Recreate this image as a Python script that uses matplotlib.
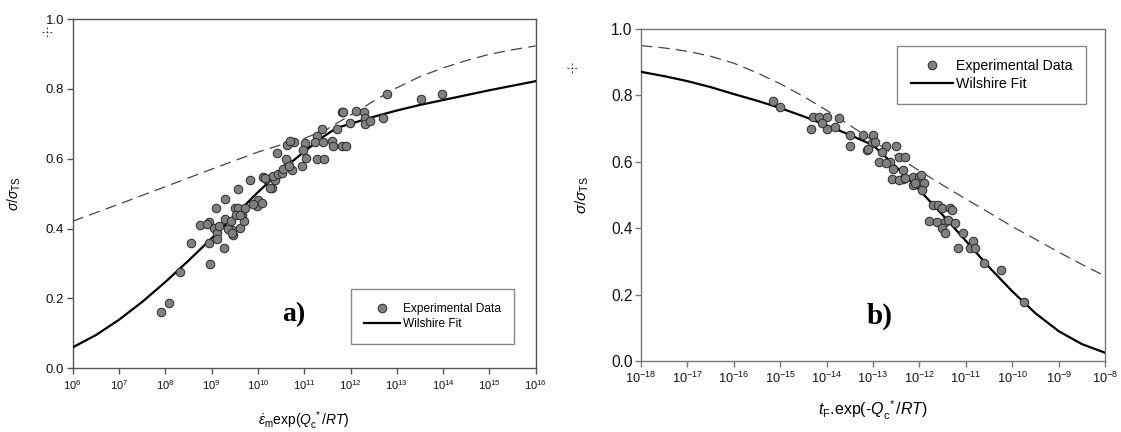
import numpy as np
import matplotlib
matplotlib.use("Agg")
import matplotlib.pyplot as plt
from matplotlib.lines import Line2D
from matplotlib.ticker import FixedLocator, NullLocator, LogFormatterSciNotation

plt.rcParams['font.family'] = ['Liberation Sans', 'DejaVu Sans']
plt.rcParams['mathtext.fontset'] = 'custom'
plt.rcParams['mathtext.rm'] = 'Liberation Sans'
plt.rcParams['mathtext.it'] = 'Liberation Sans:italic'
plt.rcParams['mathtext.bf'] = 'Liberation Sans:bold'
plt.rcParams['axes.unicode_minus'] = False

# ---------------- Panel a) data (x given as log10 exponent) ----------------
a_pts_logx = [7.91, 8.07, 8.32, 8.55, 8.74, 8.94, 8.97, 8.94, 9.09, 9.05, 9.12, 9.11,
              9.27, 9.28, 9.29, 9.42, 9.43, 9.47, 9.51, 9.58, 9.52, 9.58, 9.61, 9.65,
              9.69, 9.72, 9.84, 9.99, 10.01, 10.08, 10.12, 10.17, 10.30, 10.37, 10.41,
              10.33, 10.44, 10.51, 10.55, 10.64, 10.73, 10.62, 9.36, 9.44, 9.16, 8.91,
              9.90, 9.62, 10.15, 10.26, 10.61, 10.68,
              10.78, 10.69, 11.02, 11.04, 10.95, 10.98, 11.27, 11.23, 11.38, 11.41,
              11.27, 11.43, 11.59, 11.63, 11.81, 11.90, 11.70, 11.81, 11.84, 11.99,
              12.12, 12.29, 12.31, 12.31, 12.42, 12.71, 12.79, 13.53, 13.98]
a_pts_val = [0.162, 0.187, 0.276, 0.360, 0.409, 0.419, 0.299, 0.360, 0.459, 0.402, 0.387, 0.370,
             0.344, 0.485, 0.426, 0.423, 0.397, 0.383, 0.459, 0.459, 0.440, 0.512, 0.402, 0.440,
             0.421, 0.459, 0.540, 0.464, 0.483, 0.473, 0.548, 0.543, 0.517, 0.540, 0.615,
             0.550, 0.555, 0.560, 0.570, 0.588, 0.567, 0.640, 0.400, 0.387, 0.406, 0.414,
             0.470, 0.440, 0.546, 0.516, 0.600, 0.580,
             0.647, 0.650, 0.646, 0.603, 0.580, 0.625, 0.665, 0.647, 0.684, 0.647,
             0.600, 0.600, 0.650, 0.636, 0.636, 0.636, 0.684, 0.735, 0.735, 0.703,
             0.736, 0.734, 0.718, 0.700, 0.707, 0.718, 0.786, 0.770, 0.786]

a_fit_logx = [6, 6.5, 7, 7.5, 8, 8.5, 9, 9.5, 10, 10.5, 11, 11.4, 11.7, 12, 12.5, 13,
              13.5, 14, 14.5, 15, 15.5, 16]
a_fit_val = [0.060, 0.095, 0.139, 0.190, 0.247, 0.308, 0.372, 0.438, 0.504, 0.566, 0.620,
             0.662, 0.688, 0.700, 0.720, 0.738, 0.754, 0.768, 0.782, 0.796, 0.809, 0.822]

a_dash_logx = [6, 7, 8, 9, 10, 10.5, 11, 11.5, 12, 12.5, 13, 13.5, 14, 14.5, 15, 15.5, 16]
a_dash_val = [0.421, 0.470, 0.520, 0.570, 0.619, 0.640, 0.658, 0.685, 0.725, 0.765, 0.803,
              0.835, 0.860, 0.881, 0.899, 0.912, 0.923]

a_xtick_exp = [6, 7, 8, 9, 10, 11, 12, 13, 14, 15, 16]

# ---------------- Panel b) data ----------------
b_pts_logx = [-15.16, -15.00, -14.29, -14.34, -14.16, -14.00, -14.00, -14.10, -13.82, -13.73,
              -13.50, -13.50, -13.21, -13.14, -13.00, -13.03, -12.86, -12.71, -12.50, -12.64,
              -12.43, -12.32, -12.57, -12.36, -12.59, -12.36, -12.14, -12.00, -12.14, -11.96,
              -13.10, -12.95, -12.80, -12.72, -12.45, -12.31, -12.09, -11.97, -11.91, -11.95,
              -11.71, -11.59, -11.52, -11.34, -11.30, -11.80, -11.63, -11.45, -11.38, -11.52,
              -11.45, -11.23, -11.05, -11.16, -10.92, -10.85, -10.81, -10.60, -10.24, -9.75]
b_pts_val = [0.784, 0.766, 0.734, 0.699, 0.734, 0.734, 0.698, 0.716, 0.705, 0.733,
             0.681, 0.648, 0.681, 0.636, 0.681, 0.656, 0.600, 0.648, 0.648, 0.600,
             0.614, 0.614, 0.577, 0.576, 0.547, 0.547, 0.555, 0.555, 0.530, 0.535,
             0.640, 0.660, 0.630, 0.595, 0.545, 0.550, 0.535, 0.560, 0.537, 0.515,
             0.470, 0.470, 0.460, 0.460, 0.455, 0.421, 0.420, 0.420, 0.425, 0.400,
             0.385, 0.417, 0.387, 0.339, 0.340, 0.362, 0.339, 0.296, 0.274, 0.179]

b_fit_logx = [-18, -17.5, -17, -16.5, -16, -15.5, -15, -14.5, -14, -13.5, -13, -12.5, -12,
              -11.5, -11, -10.5, -10, -9.5, -9, -8.5, -8]
b_fit_val = [0.871, 0.858, 0.843, 0.825, 0.804, 0.784, 0.762, 0.737, 0.710, 0.681, 0.650,
             0.585, 0.515, 0.440, 0.362, 0.283, 0.210, 0.144, 0.090, 0.051, 0.025]

b_dash_logx = [-18, -17.5, -17, -16.5, -16, -15.5, -15, -14.5, -14, -13.5, -13, -12.5, -12,
               -11.5, -11, -10.5, -10, -9.5, -9, -8.5, -8]
b_dash_val = [0.950, 0.943, 0.933, 0.918, 0.897, 0.868, 0.835, 0.797, 0.755, 0.710, 0.664,
              0.617, 0.573, 0.530, 0.488, 0.447, 0.405, 0.367, 0.328, 0.291, 0.256]

b_xtick_exp = [-18, -17, -16, -15, -14, -13, -12, -11, -10, -9, -8]

yticks = [0.0, 0.2, 0.4, 0.6, 0.8, 1.0]
legend_labels = ['Experimental Data', 'Wilshire Fit']

W, H = 1121, 432
fig = plt.figure(figsize=(W / 100, H / 100), dpi=100)

axA = fig.add_axes([72.7 / W, 1 - 368.3 / H, 463.0 / W, 349.3 / H])
axB = fig.add_axes([641.0 / W, 1 - 361.0 / H, 464.0 / W, 332.0 / H])

face = '#808080'
edge = '#2a2a2a'


def draw(ax, pts_x, pts_y, fit_x, fit_y, dash_x, dash_y, xt_exp, spine_col,
         xt_size, yt_size, leg_size, leg_center, leg_pad, panel_label, pl_pos, pl_size):
    ax.plot(10.0 ** np.array(dash_x), dash_y, color='#444444', lw=0.9,
            dashes=(9, 5), zorder=2)
    ax.plot(10.0 ** np.array(fit_x), fit_y, color='black', lw=1.6, zorder=3)
    ax.scatter(10.0 ** np.array(pts_x), pts_y, s=38, facecolor=face,
               edgecolor=edge, linewidths=0.7, zorder=4)
    ax.set_xscale('log')
    ax.set_xlim(10.0 ** xt_exp[0], 10.0 ** xt_exp[-1])
    ax.set_ylim(0, 1.0)
    ax.xaxis.set_major_locator(FixedLocator([10.0 ** e for e in xt_exp]))
    ax.xaxis.set_major_formatter(LogFormatterSciNotation())
    ax.xaxis.set_minor_locator(NullLocator())
    ax.yaxis.set_major_locator(FixedLocator(yticks))
    ax.set_yticklabels(['%.1f' % v for v in yticks])
    for s in ax.spines.values():
        s.set_color(spine_col)
        s.set_linewidth(1.0)
    ax.tick_params(axis='x', direction='out', length=4, width=1.0, color=spine_col,
                   labelsize=xt_size, pad=3, labelcolor='#111111')
    ax.tick_params(axis='y', direction='out', length=4, width=1.0, color=spine_col,
                   labelsize=yt_size, pad=2, labelcolor='#111111')
    handles = [Line2D([], [], ls='none', marker='o', ms=6.2, mfc=face, mec=edge, mew=0.7),
               Line2D([], [], color='black', lw=1.6)]
    leg = ax.legend(handles, legend_labels, loc='center', bbox_to_anchor=leg_center,
                    fontsize=leg_size, frameon=True, fancybox=False, framealpha=1,
                    edgecolor='#888888', handlelength=3.0, handletextpad=0.2,
                    labelspacing=0.25, borderpad=leg_pad, borderaxespad=0)
    leg.get_frame().set_linewidth(1.0)
    ax.text(pl_pos[0], pl_pos[1], panel_label, transform=ax.transAxes,
            fontsize=pl_size, fontweight='bold', family='Liberation Serif',
            ha='center', va='center')


draw(axA, a_pts_logx, a_pts_val, a_fit_logx, a_fit_val, a_dash_logx, a_dash_val,
     a_xtick_exp, '#555555', 8.0, 9.5, 8.6, (0.777, 0.148), 1.15, 'a)', (0.478, 0.155), 20)
draw(axB, b_pts_logx, b_pts_val, b_fit_logx, b_fit_val, b_dash_logx, b_dash_val,
     b_xtick_exp, '#777777', 9.2, 11.2, 10.2, (0.756, 0.861), 0.95, 'b)', (0.514, 0.136), 21)

axA.set_xlabel(r'$\dot{\varepsilon}_{\mathrm{m}}$exp($Q_{\mathrm{c}}^{\ *}$/$RT$)',
               fontsize=10, labelpad=13)
axA.set_ylabel(r'$\sigma/\sigma_{\mathrm{TS}}$', fontsize=10)
axA.yaxis.set_label_coords(-0.108, 0.5)
axB.set_xlabel(r'$t_{\mathrm{F}}$.exp(-$Q_{\mathrm{c}}^{\ *}$/$RT$)',
               fontsize=11.5, labelpad=9)
axB.set_ylabel(r'$\sigma/\sigma_{\mathrm{TS}}$', fontsize=11)
axB.yaxis.set_label_coords(-0.108, 0.5)


# small dashed crosshair marks
def cross(cx, cy, r=5):
    fig.add_artist(Line2D([(cx - r) / W, (cx + r) / W], [1 - cy / H, 1 - cy / H],
                          color='#444444', lw=0.7, dashes=(2, 2)))
    fig.add_artist(Line2D([cx / W, cx / W], [1 - (cy - r) / H, 1 - (cy + r) / H],
                          color='#444444', lw=0.7, dashes=(2, 2)))


cross(46.5, 31.5)
cross(571.5, 67.5)

fig.savefig('out.png', dpi=100)
